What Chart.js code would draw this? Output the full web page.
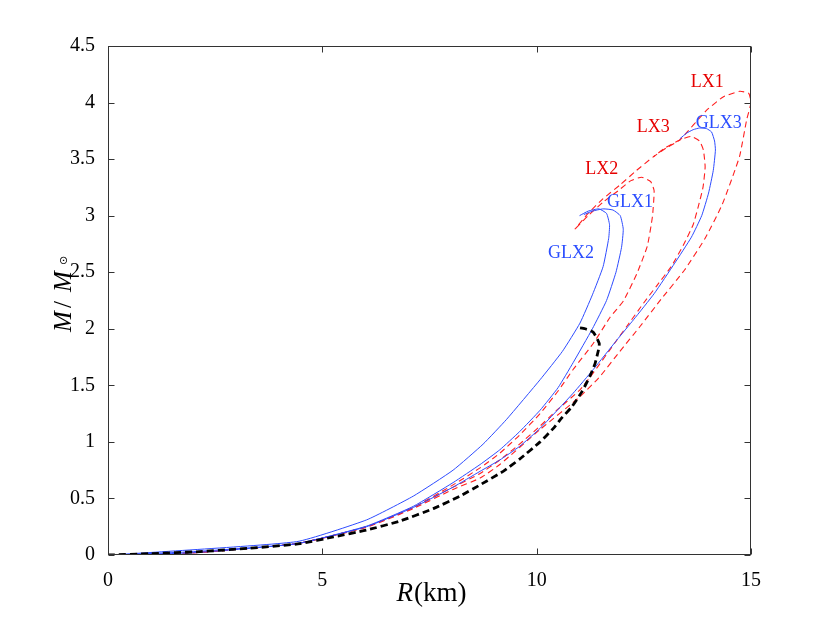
<!DOCTYPE html>
<html>
<head>
<meta charset="utf-8">
<script src="https://cdn.jsdelivr.net/npm/chart.js@4.4.0/dist/chart.umd.min.js"></script>
<style>
  html, body { margin: 0; padding: 0; background: #fff; }
  #wrap { width: 830px; height: 624px; }
</style>
</head>
<body>
<div id="wrap"><canvas id="grafico" width="830" height="624"></canvas></div>
<script>
// eixos
const xTicks = [0, 5, 10, 15];
const xTickLabels = ['0', '5', '10', '15'];
const yTicks = [0, 0.5, 1, 1.5, 2, 2.5, 3, 3.5, 4, 4.5];
const yTickLabels = ['0', '0.5', '1', '1.5', '2', '2.5', '3', '3.5', '4', '4.5'];

// curvas massa-raio (R em km, M em massas solares)
const glx2R = [0.1, 4.4, 6.03, 7.12, 8.05, 8.75, 9.3, 10.08, 10.6, 11.01, 11.3, 11.55, 11.68, 11.7, 11.63, 11.45, 11.2, 11.0];
const glx2M = [0, 0.118, 0.31, 0.52, 0.75, 0.98, 1.2, 1.55, 1.8, 2.05, 2.3, 2.55, 2.8, 2.92, 3.02, 3.06, 3.04, 3.0];

const glx1R = [0.1, 2, 4.4, 6.03, 7.12, 8.05, 8.68, 9.14, 9.6, 10.08, 10.5, 10.85, 11.3, 11.63, 11.85, 11.98, 12.02, 11.95, 11.78, 11.55, 11.3, 11.1];
const glx1M = [0, 0.03, 0.1, 0.255, 0.43, 0.64, 0.8, 0.93, 1.09, 1.28, 1.48, 1.7, 2.0, 2.25, 2.5, 2.72, 2.88, 3.0, 3.05, 3.06, 3.04, 3.01];

const glx3R = [0.1, 2, 4.4, 6.03, 7.12, 8.05, 8.68, 9.14, 9.6, 10.08, 10.85, 11.32, 11.87, 12.26, 12.74, 13.22, 13.61, 13.85, 14.01, 14.12, 14.17, 14.15, 14.08, 13.96, 13.8, 13.65, 13.5, 13.34];
const glx3M = [0, 0.02, 0.1, 0.25, 0.42, 0.6, 0.74, 0.84, 0.96, 1.12, 1.43, 1.64, 1.9, 2.08, 2.31, 2.58, 2.81, 3.0, 3.2, 3.4, 3.58, 3.66, 3.74, 3.77, 3.775, 3.76, 3.73, 3.68];

const lx1R = [0.1, 2, 4.4, 6.03, 7.12, 8.05, 8.68, 9.14, 10.08, 11.01, 11.48, 11.94, 12.41, 12.9, 13.45, 13.93, 14.33, 14.73, 14.9, 15.0, 14.95, 14.74, 14.35, 13.96, 13.34, 13.03, 12.72, 12.33, 11.94, 11.55, 11.2, 10.89];
const lx1M = [0, 0.02, 0.1, 0.245, 0.41, 0.58, 0.68, 0.8, 1.11, 1.4, 1.58, 1.8, 2.02, 2.26, 2.52, 2.8, 3.1, 3.52, 3.85, 4.0, 4.08, 4.1, 4.05, 3.93, 3.67, 3.6, 3.52, 3.4, 3.27, 3.15, 3.02, 2.88];

const lx2R = [0.1, 2, 4.4, 6.03, 7.12, 8.05, 8.68, 9.14, 9.6, 10.08, 10.5, 10.85, 11.32, 11.71, 12.03, 12.34, 12.58, 12.7, 12.74, 12.66, 12.45, 12.2, 11.9, 11.55, 11.2, 10.89];
const lx2M = [0, 0.02, 0.1, 0.25, 0.42, 0.62, 0.77, 0.9, 1.06, 1.25, 1.45, 1.64, 1.87, 2.1, 2.25, 2.49, 2.73, 2.99, 3.22, 3.3, 3.34, 3.31, 3.22, 3.12, 3.0, 2.88];

const lx3R = [0.1, 2, 4.4, 6.03, 7.12, 8.05, 8.68, 9.14, 9.6, 10.08, 10.47, 11.01, 11.32, 11.87, 12.1, 12.5, 12.8, 13.14, 13.45, 13.65, 13.77, 13.88, 13.93, 13.89, 13.8, 13.6, 13.34, 13.0, 12.72];
const lx3M = [0, 0.02, 0.1, 0.25, 0.42, 0.6, 0.72, 0.84, 0.98, 1.14, 1.28, 1.46, 1.61, 1.9, 2.02, 2.23, 2.38, 2.55, 2.76, 2.92, 3.08, 3.25, 3.43, 3.58, 3.66, 3.7, 3.67, 3.6, 3.52];

const tovR = [0, 0.98, 2.15, 3.31, 4.48, 5.26, 6.03, 6.81, 7.59, 8.21, 8.68, 9.22, 9.61, 10.08, 10.39, 10.58, 10.82, 11.05, 11.24, 11.36, 11.44, 11.46, 11.32, 11.13, 10.97];
const tovM = [0, 0.012, 0.03, 0.06, 0.1, 0.16, 0.22, 0.3, 0.41, 0.52, 0.62, 0.74, 0.85, 1.0, 1.12, 1.21, 1.31, 1.44, 1.58, 1.69, 1.81, 1.87, 1.97, 2.0, 2.01];

// nomes das curvas
const curveNames = ['LX1', 'GLX3', 'LX3', 'LX2', 'GLX1', 'GLX2'];
const curveNameR = [13.98, 14.25, 12.72, 11.52, 12.18, 10.80];
const curveNameM = [4.18, 3.82, 3.78, 3.41, 3.12, 2.67];
const curveNameColor = ['#e60000', '#2a4dff', '#e60000', '#e60000', '#2a4dff', '#2a4dff'];

const fonteSerif = "'Liberation Serif', 'Times New Roman', serif";
const azul = 'rgb(45,75,255)';
const vermelho = 'rgb(255,30,30)';

function serie(label, R, M, cor, largura, traco) {
  return {
    label: label,
    data: R.map(function (r, i) { return { x: r, y: M[i] }; }),
    borderColor: cor,
    borderWidth: largura,
    borderDash: traco,
    showLine: true,
    pointRadius: 0,
    tension: 0.15,
    fill: false
  };
}

// moldura com ticks para dentro (estilo MATLAB)
const moldura = {
  id: 'moldura',
  afterDraw: function (chart) {
    const ctx = chart.ctx;
    const a = chart.chartArea;
    const sx = chart.scales.x, sy = chart.scales.y;
    const L = Math.round(a.left) + 0.5, R = Math.round(a.right) - 0.5;
    const T = Math.round(a.top) + 0.5, B = Math.round(a.bottom) - 0.5;
    ctx.save();
    ctx.strokeStyle = '#333';
    ctx.lineWidth = 1;
    ctx.strokeRect(L, T, R - L, B - T);
    ctx.beginPath();
    xTicks.forEach(function (v) {
      const p = Math.round(sx.getPixelForValue(v)) + 0.5;
      ctx.moveTo(p, B); ctx.lineTo(p, B - 6);
      ctx.moveTo(p, T); ctx.lineTo(p, T + 6);
    });
    yTicks.forEach(function (v) {
      const p = Math.round(sy.getPixelForValue(v)) + 0.5;
      ctx.moveTo(L, p); ctx.lineTo(L + 6, p);
      ctx.moveTo(R, p); ctx.lineTo(R - 6, p);
    });
    ctx.stroke();
    ctx.restore();
  }
};

// rotulos das curvas e titulos dos eixos
const textos = {
  id: 'textos',
  afterDraw: function (chart) {
    const ctx = chart.ctx;
    const sx = chart.scales.x, sy = chart.scales.y;
    ctx.save();
    ctx.font = '18px ' + fonteSerif;
    ctx.textAlign = 'center';
    ctx.textBaseline = 'middle';
    for (let i = 0; i < curveNames.length; i++) {
      ctx.fillStyle = curveNameColor[i];
      ctx.fillText(curveNames[i], sx.getPixelForValue(curveNameR[i]), sy.getPixelForValue(curveNameM[i]));
    }

    // titulo x: R(km)
    ctx.fillStyle = '#000';
    ctx.textAlign = 'left';
    ctx.textBaseline = 'alphabetic';
    const cx = (chart.chartArea.left + chart.chartArea.right) / 2 + 2;
    ctx.font = 'italic 27px ' + fonteSerif;
    const wR = ctx.measureText('R').width;
    ctx.font = '27px ' + fonteSerif;
    const wKm = ctx.measureText('(km)').width;
    const x0 = cx - (wR + 1 + wKm) / 2;
    ctx.font = 'italic 27px ' + fonteSerif;
    ctx.fillText('R', x0, 601);
    ctx.font = '27px ' + fonteSerif;
    ctx.fillText('(km)', x0 + wR + 1, 601);

    // titulo y: M/M_sol
    ctx.translate(71, 332);
    ctx.rotate(-Math.PI / 2);
    ctx.font = 'italic 25px ' + fonteSerif;
    ctx.fillText('M', 0, 0);
    ctx.font = '25px ' + fonteSerif;
    ctx.fillText('/', 24, 0);
    ctx.font = 'italic 25px ' + fonteSerif;
    ctx.fillText('M', 40, 0);
    ctx.font = '11px "DejaVu Sans"';
    ctx.textBaseline = 'middle';
    ctx.fillText('\u2299', 67, -7);
    ctx.restore();
  }
};

const ctx = document.getElementById('grafico').getContext('2d');
const grafico = new Chart(ctx, {
  type: 'scatter',
  data: {
    datasets: [
      serie('TOV', tovR, tovM, '#000', 2.8, [7, 4]),
      serie('GLX1', glx1R, glx1M, azul, 1, []),
      serie('GLX2', glx2R, glx2M, azul, 1, []),
      serie('GLX3', glx3R, glx3M, azul, 1, []),
      serie('LX1', lx1R, lx1M, vermelho, 1.1, [6, 4]),
      serie('LX2', lx2R, lx2M, vermelho, 1.1, [6, 4]),
      serie('LX3', lx3R, lx3M, vermelho, 1.1, [6, 4])
    ]
  },
  options: {
    responsive: false,
    animation: false,
    layout: { padding: { top: 46, right: 79, left: 0, bottom: 0 } },
    plugins: {
      legend: { display: false },
      tooltip: { enabled: false }
    },
    scales: {
      x: {
        type: 'linear',
        min: 0,
        max: 15,
        grid: { display: false },
        border: { display: false },
        afterBuildTicks: function (s) { s.ticks = xTicks.map(function (v) { return { value: v }; }); },
        afterFit: function (s) { s.height = 69; },
        ticks: {
          padding: 6,
          color: '#000',
          font: { family: fonteSerif, size: 20 },
          callback: function (v, i) { return xTickLabels[i]; }
        }
      },
      y: {
        type: 'linear',
        min: 0,
        max: 4.5,
        grid: { display: false },
        border: { display: false },
        afterBuildTicks: function (s) { s.ticks = yTicks.map(function (v) { return { value: v }; }); },
        afterFit: function (s) { s.width = 108; },
        ticks: {
          padding: 5,
          color: '#000',
          font: { family: fonteSerif, size: 20 },
          callback: function (v, i) { return yTickLabels[i]; }
        }
      }
    }
  },
  plugins: [moldura, textos]
});
</script>
</body>
</html>
